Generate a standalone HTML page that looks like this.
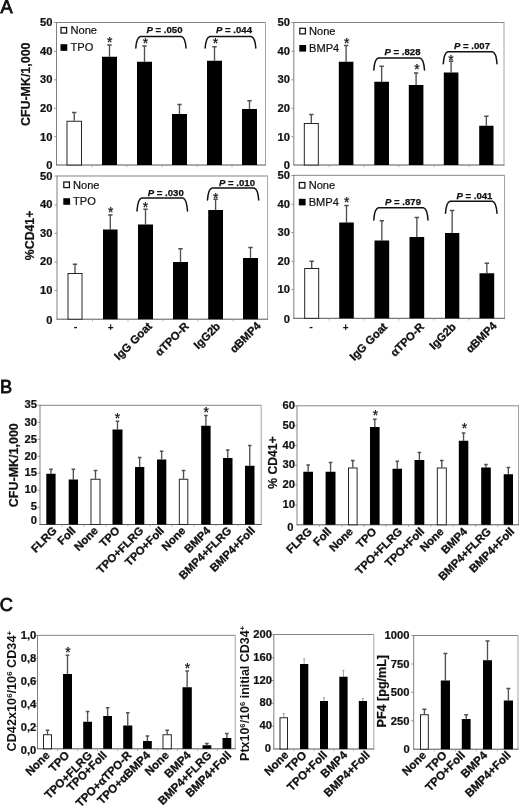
<!DOCTYPE html>
<html><head><meta charset="utf-8"><title>Figure</title>
<style>
html,body{margin:0;padding:0;background:#fff;}
body{width:520px;height:806px;overflow:hidden;font-family:"Liberation Sans",sans-serif;}
svg{display:block;filter:blur(0.38px);}
svg text{font-family:"Liberation Sans",sans-serif;fill:#111;}
</style></head><body>
<svg width="520" height="806" viewBox="0 0 520 806">
<rect x="0" y="0" width="520" height="806" fill="#fff"/>
<text x="0.4" y="12.8" font-size="18.2" stroke="#111" stroke-width="0.8">A</text>
<text x="0.0" y="393" font-size="18.2" stroke="#111" stroke-width="0.8">B</text>
<text x="-0.2" y="611.2" font-size="18.2" stroke="#111" stroke-width="0.8">C</text>
<path d="M56.5,22.5 H265.5" fill="none" stroke="#858585" stroke-width="1"/>
<path d="M265.5,22.0 V165" fill="none" stroke="#a4a4a4" stroke-width="1"/>
<path d="M56.5,22.0 V165" fill="none" stroke="#808080" stroke-width="1"/>
<path d="M56.0,165 H266.0" fill="none" stroke="#555" stroke-width="1"/>
<path d="M54.0,22.5 H56.5" stroke="#808080" stroke-width="0.8"/>
<path d="M54.0,51.3 H56.5" stroke="#808080" stroke-width="0.8"/>
<path d="M54.0,79.8 H56.5" stroke="#808080" stroke-width="0.8"/>
<path d="M54.0,108.3 H56.5" stroke="#808080" stroke-width="0.8"/>
<path d="M54.0,136.7 H56.5" stroke="#808080" stroke-width="0.8"/>
<path d="M92,165 V167.2" stroke="#a0a0a0" stroke-width="0.8"/>
<path d="M127,165 V167.2" stroke="#a0a0a0" stroke-width="0.8"/>
<path d="M162,165 V167.2" stroke="#a0a0a0" stroke-width="0.8"/>
<path d="M197,165 V167.2" stroke="#a0a0a0" stroke-width="0.8"/>
<path d="M232,165 V167.2" stroke="#a0a0a0" stroke-width="0.8"/>
<text x="52.5" y="26.21" font-size="11.2" font-weight="bold" text-anchor="end" stroke="#111" stroke-width="0.22">50</text>
<text x="52.5" y="55.01" font-size="11.2" font-weight="bold" text-anchor="end" stroke="#111" stroke-width="0.22">40</text>
<text x="52.5" y="83.41" font-size="11.2" font-weight="bold" text-anchor="end" stroke="#111" stroke-width="0.22">30</text>
<text x="52.5" y="111.71" font-size="11.2" font-weight="bold" text-anchor="end" stroke="#111" stroke-width="0.22">20</text>
<text x="52.5" y="140.61" font-size="11.2" font-weight="bold" text-anchor="end" stroke="#111" stroke-width="0.22">10</text>
<text x="52.5" y="169.31" font-size="11.2" font-weight="bold" text-anchor="end" stroke="#111" stroke-width="0.22">0</text>
<text transform="translate(30.3,84.3) rotate(-90)" font-size="12.3" font-weight="bold" text-anchor="middle" stroke="#111" stroke-width="0.2" textLength="83.5" lengthAdjust="spacingAndGlyphs">CFU-MK/1,000</text>
<rect x="61.0" y="27.5" width="5.6" height="5.6" fill="#fff" stroke="#111" stroke-width="1.25"/>
<text x="70.5" y="34.20" font-size="11.1" stroke="#111" stroke-width="0.2">None</text>
<rect x="60.5" y="44.2" width="6.8" height="6.6" fill="#000"/>
<text x="70.5" y="51.40" font-size="11.1" stroke="#111" stroke-width="0.2">TPO</text>
<path d="M74.25,120.75 V112.5 M72.05,112.5 H76.45" fill="none" stroke="#505050" stroke-width="1.35"/>
<rect x="67.00" y="121.25" width="14.50" height="43.75" fill="#fff" stroke="#1a1a1a" stroke-width="0.95"/>
<path d="M109.50,56.75 V45 M107.30,45 H111.70" fill="none" stroke="#505050" stroke-width="1.35"/>
<rect x="102.00" y="56.75" width="15.00" height="108.25" fill="#000"/>
<path d="M144.50,61.75 V46 M142.30,46 H146.70" fill="none" stroke="#505050" stroke-width="1.35"/>
<rect x="137.00" y="61.75" width="15.00" height="103.25" fill="#000"/>
<path d="M179.50,114 V104.5 M177.30,104.5 H181.70" fill="none" stroke="#505050" stroke-width="1.35"/>
<rect x="172.00" y="114.00" width="15.00" height="51.00" fill="#000"/>
<path d="M214.50,60.75 V46.75 M212.30,46.75 H216.70" fill="none" stroke="#505050" stroke-width="1.35"/>
<rect x="207.00" y="60.75" width="15.00" height="104.25" fill="#000"/>
<path d="M249.50,109 V100.75 M247.30,100.75 H251.70" fill="none" stroke="#505050" stroke-width="1.35"/>
<rect x="242.00" y="109.00" width="15.00" height="56.00" fill="#000"/>
<text x="109.7" y="47.17" font-size="13.8" text-anchor="middle" fill="#111" stroke="#111" stroke-width="0.25">*</text>
<text x="145.5" y="48.17" font-size="13.8" text-anchor="middle" fill="#111" stroke="#111" stroke-width="0.25">*</text>
<text x="215.5" y="48.17" font-size="13.8" text-anchor="middle" fill="#111" stroke="#111" stroke-width="0.25">*</text>
<path d="M135.8,48 C136.10000000000002,43.5 136.8,37.3 140.4,36.5 H181.4 C185.0,37.3 185.7,43.5 186,48" fill="none" stroke="#111" stroke-width="1.5" stroke-linecap="round"/>
<text x="164.5" y="33" font-size="9.6" font-weight="bold" text-anchor="middle" stroke="#111" stroke-width="0.25"><tspan font-style="italic">P</tspan> = .050</text>
<path d="M205.2,48 C205.5,43.5 206.2,37.3 209.79999999999998,36.5 H251.20000000000002 C254.8,37.3 255.5,43.5 255.8,48" fill="none" stroke="#111" stroke-width="1.5" stroke-linecap="round"/>
<text x="234" y="33" font-size="9.6" font-weight="bold" text-anchor="middle" stroke="#111" stroke-width="0.25"><tspan font-style="italic">P</tspan> = .044</text>
<path d="M293.8,22.5 H504" fill="none" stroke="#858585" stroke-width="1"/>
<path d="M504,22.0 V165" fill="none" stroke="#a4a4a4" stroke-width="1"/>
<path d="M293.8,22.0 V165" fill="none" stroke="#808080" stroke-width="1"/>
<path d="M293.3,165 H504.5" fill="none" stroke="#555" stroke-width="1"/>
<path d="M291.3,22.5 H293.8" stroke="#808080" stroke-width="0.8"/>
<path d="M291.3,51.3 H293.8" stroke="#808080" stroke-width="0.8"/>
<path d="M291.3,79.8 H293.8" stroke="#808080" stroke-width="0.8"/>
<path d="M291.3,108.3 H293.8" stroke="#808080" stroke-width="0.8"/>
<path d="M291.3,136.7 H293.8" stroke="#808080" stroke-width="0.8"/>
<path d="M329,165 V167.2" stroke="#a0a0a0" stroke-width="0.8"/>
<path d="M364,165 V167.2" stroke="#a0a0a0" stroke-width="0.8"/>
<path d="M399,165 V167.2" stroke="#a0a0a0" stroke-width="0.8"/>
<path d="M434,165 V167.2" stroke="#a0a0a0" stroke-width="0.8"/>
<path d="M469,165 V167.2" stroke="#a0a0a0" stroke-width="0.8"/>
<text x="290" y="25.91" font-size="11.2" font-weight="bold" text-anchor="end" stroke="#111" stroke-width="0.22">50</text>
<text x="290" y="54.71" font-size="11.2" font-weight="bold" text-anchor="end" stroke="#111" stroke-width="0.22">40</text>
<text x="290" y="83.41" font-size="11.2" font-weight="bold" text-anchor="end" stroke="#111" stroke-width="0.22">30</text>
<text x="290" y="112.01" font-size="11.2" font-weight="bold" text-anchor="end" stroke="#111" stroke-width="0.22">20</text>
<text x="290" y="140.91" font-size="11.2" font-weight="bold" text-anchor="end" stroke="#111" stroke-width="0.22">10</text>
<text x="290" y="169.21" font-size="11.2" font-weight="bold" text-anchor="end" stroke="#111" stroke-width="0.22">0</text>
<rect x="299.8" y="28.3" width="5.6" height="5.6" fill="#fff" stroke="#111" stroke-width="1.25"/>
<text x="309" y="35.00" font-size="11.1" stroke="#111" stroke-width="0.2">None</text>
<rect x="299.3" y="45" width="6.8" height="6.6" fill="#000"/>
<text x="309" y="52.20" font-size="11.1" stroke="#111" stroke-width="0.2">BMP4</text>
<path d="M311.30,123 V114.5 M309.10,114.5 H313.50" fill="none" stroke="#505050" stroke-width="1.35"/>
<rect x="304.30" y="123.50" width="14.00" height="41.50" fill="#fff" stroke="#1a1a1a" stroke-width="0.95"/>
<path d="M346.10,61.75 V45.5 M343.90,45.5 H348.30" fill="none" stroke="#505050" stroke-width="1.35"/>
<rect x="338.80" y="61.75" width="14.60" height="103.25" fill="#000"/>
<path d="M381.65,81.75 V66.25 M379.45,66.25 H383.85" fill="none" stroke="#505050" stroke-width="1.35"/>
<rect x="374.30" y="81.75" width="14.70" height="83.25" fill="#000"/>
<path d="M416.10,85 V73 M413.90,73 H418.30" fill="none" stroke="#505050" stroke-width="1.35"/>
<rect x="408.80" y="85.00" width="14.60" height="80.00" fill="#000"/>
<path d="M451.10,72.5 V61.25 M448.90,61.25 H453.30" fill="none" stroke="#505050" stroke-width="1.35"/>
<rect x="443.80" y="72.50" width="14.60" height="92.50" fill="#000"/>
<path d="M486.35,125.75 V116.25 M484.15,116.25 H488.55" fill="none" stroke="#505050" stroke-width="1.35"/>
<rect x="479.20" y="125.75" width="14.30" height="39.25" fill="#000"/>
<text x="346.8" y="47.67" font-size="13.8" text-anchor="middle" fill="#111" stroke="#111" stroke-width="0.25">*</text>
<text x="417" y="73.67" font-size="13.8" text-anchor="middle" fill="#111" stroke="#111" stroke-width="0.25">*</text>
<text x="451" y="64.67" font-size="13.8" text-anchor="middle" fill="#111" stroke="#111" stroke-width="0.25">*</text>
<path d="M373.8,70 C374.1,65.5 374.8,58.8 378.40000000000003,58 H419.9 C423.5,58.8 424.2,65.5 424.5,70" fill="none" stroke="#111" stroke-width="1.5" stroke-linecap="round"/>
<text x="402.5" y="55.2" font-size="9.6" font-weight="bold" text-anchor="middle" stroke="#111" stroke-width="0.25"><tspan font-style="italic">P</tspan> = .828</text>
<path d="M443.3,63.8 C443.6,59.3 444.3,52.599999999999994 447.90000000000003,51.8 H492.4 C496.0,52.599999999999994 496.7,59.3 497,63.8" fill="none" stroke="#111" stroke-width="1.5" stroke-linecap="round"/>
<text x="472" y="49" font-size="9.6" font-weight="bold" text-anchor="middle" stroke="#111" stroke-width="0.25"><tspan font-style="italic">P</tspan> = .007</text>
<path d="M57,176 H267.6" fill="none" stroke="#858585" stroke-width="1"/>
<path d="M267.6,175.5 V319.2" fill="none" stroke="#a4a4a4" stroke-width="1"/>
<path d="M57,175.5 V319.2" fill="none" stroke="#808080" stroke-width="1"/>
<path d="M56.5,319.2 H268.1" fill="none" stroke="#555" stroke-width="1"/>
<path d="M54.5,176 H57" stroke="#808080" stroke-width="0.8"/>
<path d="M54.5,205 H57" stroke="#808080" stroke-width="0.8"/>
<path d="M54.5,233.3 H57" stroke="#808080" stroke-width="0.8"/>
<path d="M54.5,262 H57" stroke="#808080" stroke-width="0.8"/>
<path d="M54.5,290.5 H57" stroke="#808080" stroke-width="0.8"/>
<path d="M92.5,319.2 V321.4" stroke="#a0a0a0" stroke-width="0.8"/>
<path d="M128,319.2 V321.4" stroke="#a0a0a0" stroke-width="0.8"/>
<path d="M163,319.2 V321.4" stroke="#a0a0a0" stroke-width="0.8"/>
<path d="M198,319.2 V321.4" stroke="#a0a0a0" stroke-width="0.8"/>
<path d="M233,319.2 V321.4" stroke="#a0a0a0" stroke-width="0.8"/>
<text x="52.5" y="179.71" font-size="11.2" font-weight="bold" text-anchor="end" stroke="#111" stroke-width="0.22">50</text>
<text x="52.5" y="208.41" font-size="11.2" font-weight="bold" text-anchor="end" stroke="#111" stroke-width="0.22">40</text>
<text x="52.5" y="236.71" font-size="11.2" font-weight="bold" text-anchor="end" stroke="#111" stroke-width="0.22">30</text>
<text x="52.5" y="265.41" font-size="11.2" font-weight="bold" text-anchor="end" stroke="#111" stroke-width="0.22">20</text>
<text x="52.5" y="294.41" font-size="11.2" font-weight="bold" text-anchor="end" stroke="#111" stroke-width="0.22">10</text>
<text x="52.5" y="323.61" font-size="11.2" font-weight="bold" text-anchor="end" stroke="#111" stroke-width="0.22">0</text>
<text transform="translate(34.3,235.4) rotate(-90)" font-size="12.3" font-weight="bold" text-anchor="middle" stroke="#111" stroke-width="0.2" textLength="49.5" lengthAdjust="spacingAndGlyphs">%CD41+</text>
<rect x="63.8" y="182.0" width="5.6" height="5.6" fill="#fff" stroke="#111" stroke-width="1.25"/>
<text x="73" y="188.70" font-size="11.1" stroke="#111" stroke-width="0.2">None</text>
<rect x="63.3" y="198.2" width="6.8" height="6.6" fill="#000"/>
<text x="73" y="205.40" font-size="11.1" stroke="#111" stroke-width="0.2">TPO</text>
<path d="M75.00,273 V264.25 M72.80,264.25 H77.20" fill="none" stroke="#505050" stroke-width="1.35"/>
<rect x="68.00" y="273.50" width="14.00" height="45.70" fill="#fff" stroke="#1a1a1a" stroke-width="0.95"/>
<path d="M110.30,229.5 V215 M108.10,215 H112.50" fill="none" stroke="#505050" stroke-width="1.35"/>
<rect x="103.00" y="229.50" width="14.60" height="89.70" fill="#000"/>
<path d="M145.50,224.5 V209.25 M143.30,209.25 H147.70" fill="none" stroke="#505050" stroke-width="1.35"/>
<rect x="138.00" y="224.50" width="15.00" height="94.70" fill="#000"/>
<path d="M180.50,262 V248.75 M178.30,248.75 H182.70" fill="none" stroke="#505050" stroke-width="1.35"/>
<rect x="173.00" y="262.00" width="15.00" height="57.20" fill="#000"/>
<path d="M215.60,210 V199.25 M213.40,199.25 H217.80" fill="none" stroke="#505050" stroke-width="1.35"/>
<rect x="208.20" y="210.00" width="14.80" height="109.20" fill="#000"/>
<path d="M250.50,258 V247.5 M248.30,247.5 H252.70" fill="none" stroke="#505050" stroke-width="1.35"/>
<rect x="243.00" y="258.00" width="15.00" height="61.20" fill="#000"/>
<text x="110.8" y="216.97" font-size="13.8" text-anchor="middle" fill="#111" stroke="#111" stroke-width="0.25">*</text>
<text x="145.5" y="212.17" font-size="13.8" text-anchor="middle" fill="#111" stroke="#111" stroke-width="0.25">*</text>
<text x="215.8" y="202.67" font-size="13.8" text-anchor="middle" fill="#111" stroke="#111" stroke-width="0.25">*</text>
<path d="M137,211 C137.3,206.5 138.0,198.8 141.6,198 H182.9 C186.5,198.8 187.2,206.5 187.5,211" fill="none" stroke="#111" stroke-width="1.5" stroke-linecap="round"/>
<text x="165.8" y="196" font-size="9.6" font-weight="bold" text-anchor="middle" stroke="#111" stroke-width="0.25"><tspan font-style="italic">P</tspan> = .030</text>
<path d="M207.5,200 C207.8,195.5 208.5,188.8 212.1,188 H254.1 C257.7,188.8 258.4,195.5 258.7,200" fill="none" stroke="#111" stroke-width="1.5" stroke-linecap="round"/>
<text x="237" y="185.7" font-size="9.6" font-weight="bold" text-anchor="middle" stroke="#111" stroke-width="0.25"><tspan font-style="italic">P</tspan> = .010</text>
<text x="75.7" y="330" font-size="11" font-weight="bold" text-anchor="middle">-</text>
<text x="110.7" y="330.5" font-size="10" font-weight="bold" text-anchor="middle">+</text>
<text transform="translate(152.6,327) rotate(-45)" font-size="11.3" font-weight="bold" text-anchor="end" stroke="#111" stroke-width="0.3">IgG Goat</text>
<text transform="translate(189.5,327) rotate(-45)" font-size="11.3" font-weight="bold" text-anchor="end" stroke="#111" stroke-width="0.3">&#945;TPO-R</text>
<text transform="translate(221,327) rotate(-45)" font-size="11.3" font-weight="bold" text-anchor="end" stroke="#111" stroke-width="0.3">IgG2b</text>
<text transform="translate(261.5,326.5) rotate(-45)" font-size="11.3" font-weight="bold" text-anchor="end" stroke="#111" stroke-width="0.3">&#945;BMP4</text>
<path d="M293.8,175.3 H504.5" fill="none" stroke="#858585" stroke-width="1"/>
<path d="M504.5,174.8 V318.3" fill="none" stroke="#a4a4a4" stroke-width="1"/>
<path d="M293.8,174.8 V318.3" fill="none" stroke="#808080" stroke-width="1"/>
<path d="M293.3,318.3 H505.0" fill="none" stroke="#555" stroke-width="1"/>
<path d="M291.3,175.5 H293.8" stroke="#808080" stroke-width="0.8"/>
<path d="M291.3,204.3 H293.8" stroke="#808080" stroke-width="0.8"/>
<path d="M291.3,232.5 H293.8" stroke="#808080" stroke-width="0.8"/>
<path d="M291.3,261.3 H293.8" stroke="#808080" stroke-width="0.8"/>
<path d="M291.3,289.5 H293.8" stroke="#808080" stroke-width="0.8"/>
<path d="M329,318.3 V320.5" stroke="#a0a0a0" stroke-width="0.8"/>
<path d="M364,318.3 V320.5" stroke="#a0a0a0" stroke-width="0.8"/>
<path d="M399,318.3 V320.5" stroke="#a0a0a0" stroke-width="0.8"/>
<path d="M434,318.3 V320.5" stroke="#a0a0a0" stroke-width="0.8"/>
<path d="M469,318.3 V320.5" stroke="#a0a0a0" stroke-width="0.8"/>
<text x="290" y="178.91" font-size="11.2" font-weight="bold" text-anchor="end" stroke="#111" stroke-width="0.22">50</text>
<text x="290" y="207.71" font-size="11.2" font-weight="bold" text-anchor="end" stroke="#111" stroke-width="0.22">40</text>
<text x="290" y="235.91" font-size="11.2" font-weight="bold" text-anchor="end" stroke="#111" stroke-width="0.22">30</text>
<text x="290" y="264.71" font-size="11.2" font-weight="bold" text-anchor="end" stroke="#111" stroke-width="0.22">20</text>
<text x="290" y="293.41" font-size="11.2" font-weight="bold" text-anchor="end" stroke="#111" stroke-width="0.22">10</text>
<text x="290" y="322.71" font-size="11.2" font-weight="bold" text-anchor="end" stroke="#111" stroke-width="0.22">0</text>
<rect x="299.3" y="182.5" width="5.6" height="5.6" fill="#fff" stroke="#111" stroke-width="1.25"/>
<text x="308.7" y="189.20" font-size="11.1" stroke="#111" stroke-width="0.2">None</text>
<rect x="298.8" y="198.8" width="6.8" height="6.6" fill="#000"/>
<text x="308.7" y="206.00" font-size="11.1" stroke="#111" stroke-width="0.2">BMP4</text>
<path d="M311.70,268 V261.25 M309.50,261.25 H313.90" fill="none" stroke="#505050" stroke-width="1.35"/>
<rect x="304.70" y="268.50" width="14.00" height="49.80" fill="#fff" stroke="#1a1a1a" stroke-width="0.95"/>
<path d="M346.50,222.5 V205.5 M344.30,205.5 H348.70" fill="none" stroke="#505050" stroke-width="1.35"/>
<rect x="339.20" y="222.50" width="14.60" height="95.80" fill="#000"/>
<path d="M381.85,240.5 V220.75 M379.65,220.75 H384.05" fill="none" stroke="#505050" stroke-width="1.35"/>
<rect x="374.50" y="240.50" width="14.70" height="77.80" fill="#000"/>
<path d="M416.85,237 V217.5 M414.65,217.5 H419.05" fill="none" stroke="#505050" stroke-width="1.35"/>
<rect x="409.50" y="237.00" width="14.70" height="81.30" fill="#000"/>
<path d="M452.15,233 V210.5 M449.95,210.5 H454.35" fill="none" stroke="#505050" stroke-width="1.35"/>
<rect x="445.00" y="233.00" width="14.30" height="85.30" fill="#000"/>
<path d="M486.85,273.25 V263.25 M484.65,263.25 H489.05" fill="none" stroke="#505050" stroke-width="1.35"/>
<rect x="479.50" y="273.25" width="14.70" height="45.05" fill="#000"/>
<text x="346.8" y="206.97" font-size="13.8" text-anchor="middle" fill="#111" stroke="#111" stroke-width="0.25">*</text>
<path d="M373.8,220 C374.1,215.5 374.8,208.60000000000002 378.40000000000003,207.8 H423.4 C427.0,208.60000000000002 427.7,215.5 428,220" fill="none" stroke="#111" stroke-width="1.5" stroke-linecap="round"/>
<text x="403" y="205.3" font-size="9.6" font-weight="bold" text-anchor="middle" stroke="#111" stroke-width="0.25"><tspan font-style="italic">P</tspan> = .879</text>
<path d="M445.5,213.3 C445.8,208.8 446.5,202.10000000000002 450.1,201.3 H492.4 C496.0,202.10000000000002 496.7,208.8 497,213.3" fill="none" stroke="#111" stroke-width="1.5" stroke-linecap="round"/>
<text x="474.4" y="198.5" font-size="9.6" font-weight="bold" text-anchor="middle" stroke="#111" stroke-width="0.25"><tspan font-style="italic">P</tspan> = .041</text>
<text x="311.2" y="330" font-size="11" font-weight="bold" text-anchor="middle">-</text>
<text x="345.7" y="330.5" font-size="10" font-weight="bold" text-anchor="middle">+</text>
<text transform="translate(388,327.5) rotate(-45)" font-size="11.3" font-weight="bold" text-anchor="end" stroke="#111" stroke-width="0.3">IgG Goat</text>
<text transform="translate(424.7,327.5) rotate(-45)" font-size="11.3" font-weight="bold" text-anchor="end" stroke="#111" stroke-width="0.3">&#945;TPO-R</text>
<text transform="translate(456.6,327.5) rotate(-45)" font-size="11.3" font-weight="bold" text-anchor="end" stroke="#111" stroke-width="0.3">IgG2b</text>
<text transform="translate(497.5,326.5) rotate(-45)" font-size="11.3" font-weight="bold" text-anchor="end" stroke="#111" stroke-width="0.3">&#945;BMP4</text>
<path d="M40,405.3 H261.2" fill="none" stroke="#858585" stroke-width="1"/>
<path d="M261.2,404.8 V524.5" fill="none" stroke="#a4a4a4" stroke-width="1"/>
<path d="M40,404.8 V524.5" fill="none" stroke="#808080" stroke-width="1"/>
<path d="M39.5,524.5 H261.7" fill="none" stroke="#555" stroke-width="1"/>
<path d="M37.5,405.3 H40" stroke="#808080" stroke-width="0.8"/>
<path d="M37.5,422.3 H40" stroke="#808080" stroke-width="0.8"/>
<path d="M37.5,439.3 H40" stroke="#808080" stroke-width="0.8"/>
<path d="M37.5,456.3 H40" stroke="#808080" stroke-width="0.8"/>
<path d="M37.5,473.3 H40" stroke="#808080" stroke-width="0.8"/>
<path d="M37.5,490.3 H40" stroke="#808080" stroke-width="0.8"/>
<path d="M37.5,507.3 H40" stroke="#808080" stroke-width="0.8"/>
<path d="M62,524.5 V526.7" stroke="#a0a0a0" stroke-width="0.8"/>
<path d="M84,524.5 V526.7" stroke="#a0a0a0" stroke-width="0.8"/>
<path d="M106,524.5 V526.7" stroke="#a0a0a0" stroke-width="0.8"/>
<path d="M128,524.5 V526.7" stroke="#a0a0a0" stroke-width="0.8"/>
<path d="M150,524.5 V526.7" stroke="#a0a0a0" stroke-width="0.8"/>
<path d="M172,524.5 V526.7" stroke="#a0a0a0" stroke-width="0.8"/>
<path d="M194,524.5 V526.7" stroke="#a0a0a0" stroke-width="0.8"/>
<path d="M216,524.5 V526.7" stroke="#a0a0a0" stroke-width="0.8"/>
<path d="M238,524.5 V526.7" stroke="#a0a0a0" stroke-width="0.8"/>
<text x="37" y="408.41" font-size="11.2" font-weight="bold" text-anchor="end" stroke="#111" stroke-width="0.22">35</text>
<text x="37" y="425.91" font-size="11.2" font-weight="bold" text-anchor="end" stroke="#111" stroke-width="0.22">30</text>
<text x="37" y="442.71" font-size="11.2" font-weight="bold" text-anchor="end" stroke="#111" stroke-width="0.22">25</text>
<text x="37" y="459.71" font-size="11.2" font-weight="bold" text-anchor="end" stroke="#111" stroke-width="0.22">20</text>
<text x="37" y="476.41" font-size="11.2" font-weight="bold" text-anchor="end" stroke="#111" stroke-width="0.22">15</text>
<text x="37" y="493.41" font-size="11.2" font-weight="bold" text-anchor="end" stroke="#111" stroke-width="0.22">10</text>
<text x="37" y="510.41" font-size="11.2" font-weight="bold" text-anchor="end" stroke="#111" stroke-width="0.22">5</text>
<text x="37" y="523.91" font-size="11.2" font-weight="bold" text-anchor="end" stroke="#111" stroke-width="0.22">0</text>
<text transform="translate(17.9,465.2) rotate(-90)" font-size="12.3" font-weight="bold" text-anchor="middle" stroke="#111" stroke-width="0.2" textLength="84" lengthAdjust="spacingAndGlyphs">CFU-MK/1,000</text>
<path d="M50.95,473.75 V469.25 M49.15,469.25 H52.75" fill="none" stroke="#505050" stroke-width="1.35"/>
<rect x="46.30" y="473.75" width="9.30" height="50.75" fill="#000"/>
<path d="M73.35,479.5 V469.25 M71.55,469.25 H75.15" fill="none" stroke="#505050" stroke-width="1.35"/>
<rect x="68.70" y="479.50" width="9.30" height="45.00" fill="#000"/>
<path d="M95.50,478.75 V470.5 M93.70,470.5 H97.30" fill="none" stroke="#505050" stroke-width="1.35"/>
<rect x="91.00" y="479.25" width="9.00" height="45.25" fill="#fff" stroke="#1a1a1a" stroke-width="0.95"/>
<path d="M117.50,429.5 V421.25 M115.70,421.25 H119.30" fill="none" stroke="#505050" stroke-width="1.35"/>
<rect x="112.50" y="429.50" width="10.00" height="95.00" fill="#000"/>
<path d="M139.65,467 V457.5 M137.85,457.5 H141.45" fill="none" stroke="#505050" stroke-width="1.35"/>
<rect x="135.00" y="467.00" width="9.30" height="57.50" fill="#000"/>
<path d="M161.65,459.5 V451.25 M159.85,451.25 H163.45" fill="none" stroke="#505050" stroke-width="1.35"/>
<rect x="157.00" y="459.50" width="9.30" height="65.00" fill="#000"/>
<path d="M183.55,478.75 V470.5 M181.75,470.5 H185.35" fill="none" stroke="#505050" stroke-width="1.35"/>
<rect x="179.30" y="479.25" width="8.50" height="45.25" fill="#fff" stroke="#1a1a1a" stroke-width="0.95"/>
<path d="M205.90,425.75 V415.5 M204.10,415.5 H207.70" fill="none" stroke="#505050" stroke-width="1.35"/>
<rect x="201.20" y="425.75" width="9.40" height="98.75" fill="#000"/>
<path d="M227.75,458 V450 M225.95,450 H229.55" fill="none" stroke="#505050" stroke-width="1.35"/>
<rect x="223.00" y="458.00" width="9.50" height="66.50" fill="#000"/>
<path d="M249.75,465.75 V445.5 M247.95,445.5 H251.55" fill="none" stroke="#505050" stroke-width="1.35"/>
<rect x="245.00" y="465.75" width="9.50" height="58.75" fill="#000"/>
<text x="117.5" y="422.97" font-size="13.8" text-anchor="middle" fill="#111" stroke="#111" stroke-width="0.25">*</text>
<text x="206.2" y="416.87" font-size="13.8" text-anchor="middle" fill="#111" stroke="#111" stroke-width="0.25">*</text>
<text transform="translate(57.4,531.4) rotate(-45)" font-size="11.3" font-weight="bold" text-anchor="end" stroke="#111" stroke-width="0.3">FLRG</text>
<text transform="translate(76.3,531.4) rotate(-45)" font-size="11.3" font-weight="bold" text-anchor="end" stroke="#111" stroke-width="0.3">Foll</text>
<text transform="translate(98.8,531.4) rotate(-45)" font-size="11.3" font-weight="bold" text-anchor="end" stroke="#111" stroke-width="0.3">None</text>
<text transform="translate(120.5,531.4) rotate(-45)" font-size="11.3" font-weight="bold" text-anchor="end" stroke="#111" stroke-width="0.3">TPO</text>
<text transform="translate(144.2,531.4) rotate(-45)" font-size="11.3" font-weight="bold" text-anchor="end" stroke="#111" stroke-width="0.3">TPO+FLRG</text>
<text transform="translate(164.8,531.4) rotate(-45)" font-size="11.3" font-weight="bold" text-anchor="end" stroke="#111" stroke-width="0.3">TPO+Foll</text>
<text transform="translate(186.3,531.4) rotate(-45)" font-size="11.3" font-weight="bold" text-anchor="end" stroke="#111" stroke-width="0.3">None</text>
<text transform="translate(211.2,531.4) rotate(-45)" font-size="11.3" font-weight="bold" text-anchor="end" stroke="#111" stroke-width="0.3">BMP4</text>
<text transform="translate(232.2,531.4) rotate(-45)" font-size="11.3" font-weight="bold" text-anchor="end" stroke="#111" stroke-width="0.3">BMP4+FLRG</text>
<text transform="translate(255.6,531.4) rotate(-45)" font-size="11.3" font-weight="bold" text-anchor="end" stroke="#111" stroke-width="0.3">BMP4+Foll</text>
<path d="M297,405.8 H518.5" fill="none" stroke="#858585" stroke-width="1"/>
<path d="M518.5,405.3 V524.8" fill="none" stroke="#a4a4a4" stroke-width="1"/>
<path d="M297,405.3 V524.8" fill="none" stroke="#808080" stroke-width="1"/>
<path d="M296.5,524.8 H519.0" fill="none" stroke="#555" stroke-width="1"/>
<path d="M294.5,406 H297" stroke="#808080" stroke-width="0.8"/>
<path d="M294.5,425.8 H297" stroke="#808080" stroke-width="0.8"/>
<path d="M294.5,445.5 H297" stroke="#808080" stroke-width="0.8"/>
<path d="M294.5,465.3 H297" stroke="#808080" stroke-width="0.8"/>
<path d="M294.5,485 H297" stroke="#808080" stroke-width="0.8"/>
<path d="M294.5,505 H297" stroke="#808080" stroke-width="0.8"/>
<path d="M319.4,524.8 V527.0" stroke="#a0a0a0" stroke-width="0.8"/>
<path d="M341.7,524.8 V527.0" stroke="#a0a0a0" stroke-width="0.8"/>
<path d="M364,524.8 V527.0" stroke="#a0a0a0" stroke-width="0.8"/>
<path d="M386.3,524.8 V527.0" stroke="#a0a0a0" stroke-width="0.8"/>
<path d="M408.6,524.8 V527.0" stroke="#a0a0a0" stroke-width="0.8"/>
<path d="M430.9,524.8 V527.0" stroke="#a0a0a0" stroke-width="0.8"/>
<path d="M453.2,524.8 V527.0" stroke="#a0a0a0" stroke-width="0.8"/>
<path d="M475.5,524.8 V527.0" stroke="#a0a0a0" stroke-width="0.8"/>
<path d="M497.8,524.8 V527.0" stroke="#a0a0a0" stroke-width="0.8"/>
<text x="295" y="409.41" font-size="11.2" font-weight="bold" text-anchor="end" stroke="#111" stroke-width="0.22">60</text>
<text x="295" y="429.21" font-size="11.2" font-weight="bold" text-anchor="end" stroke="#111" stroke-width="0.22">50</text>
<text x="295" y="448.91" font-size="11.2" font-weight="bold" text-anchor="end" stroke="#111" stroke-width="0.22">40</text>
<text x="295" y="468.41" font-size="11.2" font-weight="bold" text-anchor="end" stroke="#111" stroke-width="0.22">30</text>
<text x="295" y="488.41" font-size="11.2" font-weight="bold" text-anchor="end" stroke="#111" stroke-width="0.22">20</text>
<text x="295" y="508.41" font-size="11.2" font-weight="bold" text-anchor="end" stroke="#111" stroke-width="0.22">10</text>
<text x="293.6" y="531.01" font-size="11.2" font-weight="bold" text-anchor="end" stroke="#111" stroke-width="0.22">0</text>
<text transform="translate(276.8,462.5) rotate(-90)" font-size="12.3" font-weight="bold" text-anchor="middle" stroke="#111" stroke-width="0.2" textLength="52.5" lengthAdjust="spacingAndGlyphs">% CD41+</text>
<path d="M308.15,471.75 V465 M306.35,465 H309.95" fill="none" stroke="#505050" stroke-width="1.35"/>
<rect x="303.30" y="471.75" width="9.70" height="53.05" fill="#000"/>
<path d="M330.55,471.75 V462.5 M328.75,462.5 H332.35" fill="none" stroke="#505050" stroke-width="1.35"/>
<rect x="325.60" y="471.75" width="9.90" height="53.05" fill="#000"/>
<path d="M352.80,467.5 V460.5 M351.00,460.5 H354.60" fill="none" stroke="#505050" stroke-width="1.35"/>
<rect x="348.50" y="468.00" width="8.60" height="56.80" fill="#fff" stroke="#1a1a1a" stroke-width="0.95"/>
<path d="M374.80,427 V419.25 M373.00,419.25 H376.60" fill="none" stroke="#505050" stroke-width="1.35"/>
<rect x="370.00" y="427.00" width="9.60" height="97.80" fill="#000"/>
<path d="M397.25,468.75 V461.25 M395.45,461.25 H399.05" fill="none" stroke="#505050" stroke-width="1.35"/>
<rect x="392.50" y="468.75" width="9.50" height="56.05" fill="#000"/>
<path d="M419.40,460 V452.5 M417.60,452.5 H421.20" fill="none" stroke="#505050" stroke-width="1.35"/>
<rect x="414.50" y="460.00" width="9.80" height="64.80" fill="#000"/>
<path d="M441.80,467.5 V460.5 M440.00,460.5 H443.60" fill="none" stroke="#505050" stroke-width="1.35"/>
<rect x="437.30" y="468.00" width="9.00" height="56.80" fill="#fff" stroke="#1a1a1a" stroke-width="0.95"/>
<path d="M463.55,440.75 V433 M461.75,433 H465.35" fill="none" stroke="#505050" stroke-width="1.35"/>
<rect x="458.80" y="440.75" width="9.50" height="84.05" fill="#000"/>
<path d="M486.00,467.5 V464.5 M484.20,464.5 H487.80" fill="none" stroke="#505050" stroke-width="1.35"/>
<rect x="481.20" y="467.50" width="9.60" height="57.30" fill="#000"/>
<path d="M508.35,474.25 V467.5 M506.55,467.5 H510.15" fill="none" stroke="#505050" stroke-width="1.35"/>
<rect x="503.70" y="474.25" width="9.30" height="50.55" fill="#000"/>
<text x="375.5" y="419.97" font-size="13.8" text-anchor="middle" fill="#111" stroke="#111" stroke-width="0.25">*</text>
<text x="464.5" y="433.47" font-size="13.8" text-anchor="middle" fill="#111" stroke="#111" stroke-width="0.25">*</text>
<text transform="translate(312.6,532.3) rotate(-45)" font-size="11.3" font-weight="bold" text-anchor="end" stroke="#111" stroke-width="0.3">FLRG</text>
<text transform="translate(332.0,532.3) rotate(-45)" font-size="11.3" font-weight="bold" text-anchor="end" stroke="#111" stroke-width="0.3">Foll</text>
<text transform="translate(353.8,532.3) rotate(-45)" font-size="11.3" font-weight="bold" text-anchor="end" stroke="#111" stroke-width="0.3">None</text>
<text transform="translate(377.3,532.3) rotate(-45)" font-size="11.3" font-weight="bold" text-anchor="end" stroke="#111" stroke-width="0.3">TPO</text>
<text transform="translate(402.9,532.3) rotate(-45)" font-size="11.3" font-weight="bold" text-anchor="end" stroke="#111" stroke-width="0.3">TPO+FLRG</text>
<text transform="translate(424.9,532.3) rotate(-45)" font-size="11.3" font-weight="bold" text-anchor="end" stroke="#111" stroke-width="0.3">TPO+Foll</text>
<text transform="translate(444.5,532.3) rotate(-45)" font-size="11.3" font-weight="bold" text-anchor="end" stroke="#111" stroke-width="0.3">None</text>
<text transform="translate(468,532.3) rotate(-45)" font-size="11.3" font-weight="bold" text-anchor="end" stroke="#111" stroke-width="0.3">BMP4</text>
<text transform="translate(491.7,532.3) rotate(-45)" font-size="11.3" font-weight="bold" text-anchor="end" stroke="#111" stroke-width="0.3">BMP4+FLRG</text>
<text transform="translate(514.9,532.3) rotate(-45)" font-size="11.3" font-weight="bold" text-anchor="end" stroke="#111" stroke-width="0.3">BMP4+Foll</text>
<path d="M37.5,635.3 H235.2" fill="none" stroke="#858585" stroke-width="1"/>
<path d="M235.2,634.8 V748.8" fill="none" stroke="#a4a4a4" stroke-width="1"/>
<path d="M37.5,634.8 V748.8" fill="none" stroke="#808080" stroke-width="1"/>
<path d="M37.0,748.8 H235.7" fill="none" stroke="#555" stroke-width="1"/>
<path d="M35.0,635.5 H37.5" stroke="#808080" stroke-width="0.8"/>
<path d="M35.0,658.2 H37.5" stroke="#808080" stroke-width="0.8"/>
<path d="M35.0,680.9 H37.5" stroke="#808080" stroke-width="0.8"/>
<path d="M35.0,703.6 H37.5" stroke="#808080" stroke-width="0.8"/>
<path d="M35.0,726.3 H37.5" stroke="#808080" stroke-width="0.8"/>
<path d="M57.5,748.8 V751.0" stroke="#a0a0a0" stroke-width="0.8"/>
<path d="M77.5,748.8 V751.0" stroke="#a0a0a0" stroke-width="0.8"/>
<path d="M97.5,748.8 V751.0" stroke="#a0a0a0" stroke-width="0.8"/>
<path d="M117.5,748.8 V751.0" stroke="#a0a0a0" stroke-width="0.8"/>
<path d="M137.5,748.8 V751.0" stroke="#a0a0a0" stroke-width="0.8"/>
<path d="M157.5,748.8 V751.0" stroke="#a0a0a0" stroke-width="0.8"/>
<path d="M177.5,748.8 V751.0" stroke="#a0a0a0" stroke-width="0.8"/>
<path d="M197.5,748.8 V751.0" stroke="#a0a0a0" stroke-width="0.8"/>
<path d="M217.5,748.8 V751.0" stroke="#a0a0a0" stroke-width="0.8"/>
<text x="36.3" y="639.31" font-size="11.2" font-weight="bold" text-anchor="end" stroke="#111" stroke-width="0.22">1,0</text>
<text x="36.3" y="661.91" font-size="11.2" font-weight="bold" text-anchor="end" stroke="#111" stroke-width="0.22">0,8</text>
<text x="36.3" y="685.21" font-size="11.2" font-weight="bold" text-anchor="end" stroke="#111" stroke-width="0.22">0,6</text>
<text x="36.3" y="708.11" font-size="11.2" font-weight="bold" text-anchor="end" stroke="#111" stroke-width="0.22">0,4</text>
<text x="36.3" y="730.61" font-size="11.2" font-weight="bold" text-anchor="end" stroke="#111" stroke-width="0.22">0,2</text>
<text x="36.3" y="753.81" font-size="11.2" font-weight="bold" text-anchor="end" stroke="#111" stroke-width="0.22">0,0</text>
<text transform="translate(16.4,691.2) rotate(-90)" font-size="12.3" font-weight="bold" text-anchor="middle" textLength="120.5" lengthAdjust="spacingAndGlyphs">CD42x10<tspan font-size="7.6" dy="-4">6</tspan><tspan dy="4">/10</tspan><tspan font-size="7.6" dy="-4">6</tspan><tspan dy="4"> CD34</tspan><tspan font-size="7.6" dy="-4">+</tspan></text>
<path d="M47.50,734.25 V730.25 M45.70,730.25 H49.30" fill="none" stroke="#505050" stroke-width="1.35"/>
<rect x="43.50" y="734.75" width="8.00" height="14.05" fill="#fff" stroke="#1a1a1a" stroke-width="0.95"/>
<path d="M67.50,674 V655.25 M65.70,655.25 H69.30" fill="none" stroke="#505050" stroke-width="1.35"/>
<rect x="63.00" y="674.00" width="9.00" height="74.80" fill="#000"/>
<path d="M87.60,721.75 V711.5 M85.80,711.5 H89.40" fill="none" stroke="#505050" stroke-width="1.35"/>
<rect x="83.20" y="721.75" width="8.80" height="27.05" fill="#000"/>
<path d="M107.60,716 V707.75 M105.80,707.75 H109.40" fill="none" stroke="#505050" stroke-width="1.35"/>
<rect x="103.20" y="716.00" width="8.80" height="32.80" fill="#000"/>
<path d="M127.75,725.5 V712.75 M125.95,712.75 H129.55" fill="none" stroke="#505050" stroke-width="1.35"/>
<rect x="123.20" y="725.50" width="9.10" height="23.30" fill="#000"/>
<path d="M147.40,741 V736 M145.60,736 H149.20" fill="none" stroke="#505050" stroke-width="1.35"/>
<rect x="143.00" y="741.00" width="8.80" height="7.80" fill="#000"/>
<path d="M167.15,734.25 V730.25 M165.35,730.25 H168.95" fill="none" stroke="#505050" stroke-width="1.35"/>
<rect x="163.00" y="734.75" width="8.30" height="14.05" fill="#fff" stroke="#1a1a1a" stroke-width="0.95"/>
<path d="M187.15,687.25 V671 M185.35,671 H188.95" fill="none" stroke="#505050" stroke-width="1.35"/>
<rect x="182.50" y="687.25" width="9.30" height="61.55" fill="#000"/>
<path d="M206.90,745.25 V743.5 M205.10,743.5 H208.70" fill="none" stroke="#505050" stroke-width="1.35"/>
<rect x="202.50" y="745.25" width="8.80" height="3.55" fill="#000"/>
<path d="M226.90,738 V733.5 M225.10,733.5 H228.70" fill="none" stroke="#505050" stroke-width="1.35"/>
<rect x="222.50" y="738.00" width="8.80" height="10.80" fill="#000"/>
<text x="68" y="657.17" font-size="13.8" text-anchor="middle" fill="#111" stroke="#111" stroke-width="0.25">*</text>
<text x="187.5" y="672.67" font-size="13.8" text-anchor="middle" fill="#111" stroke="#111" stroke-width="0.25">*</text>
<text transform="translate(50.5,756) rotate(-45)" font-size="11.5" font-weight="bold" text-anchor="end" stroke="#111" stroke-width="0.3">None</text>
<text transform="translate(70.2,756) rotate(-45)" font-size="11.5" font-weight="bold" text-anchor="end" stroke="#111" stroke-width="0.3">TPO</text>
<text transform="translate(92.8,756) rotate(-45)" font-size="11.5" font-weight="bold" text-anchor="end" stroke="#111" stroke-width="0.3">TPO+FLRG</text>
<text transform="translate(107.5,756) rotate(-45)" font-size="11.5" font-weight="bold" text-anchor="end" stroke="#111" stroke-width="0.3">TPO+Foll</text>
<text transform="translate(132.2,756) rotate(-45)" font-size="11.5" font-weight="bold" text-anchor="end" stroke="#111" stroke-width="0.3">TPO+&#945;TPO-R</text>
<text transform="translate(151,756) rotate(-45)" font-size="11.5" font-weight="bold" text-anchor="end" stroke="#111" stroke-width="0.3">TPO+&#945;BMP4</text>
<text transform="translate(169.8,756) rotate(-45)" font-size="11.5" font-weight="bold" text-anchor="end" stroke="#111" stroke-width="0.3">None</text>
<text transform="translate(191.6,756) rotate(-45)" font-size="11.5" font-weight="bold" text-anchor="end" stroke="#111" stroke-width="0.3">BMP4</text>
<text transform="translate(212.3,756) rotate(-45)" font-size="11.5" font-weight="bold" text-anchor="end" stroke="#111" stroke-width="0.3">BMP4+FLRG</text>
<text transform="translate(232,756) rotate(-45)" font-size="11.5" font-weight="bold" text-anchor="end" stroke="#111" stroke-width="0.3">BMP4+Foll</text>
<path d="M273.8,634.5 H373.8" fill="none" stroke="#858585" stroke-width="1"/>
<path d="M373.8,634.0 V749" fill="none" stroke="#a4a4a4" stroke-width="1"/>
<path d="M273.8,634.0 V749" fill="none" stroke="#808080" stroke-width="1"/>
<path d="M273.3,749 H374.3" fill="none" stroke="#555" stroke-width="1"/>
<path d="M271.3,634.8 H273.8" stroke="#808080" stroke-width="0.8"/>
<path d="M271.3,657.7 H273.8" stroke="#808080" stroke-width="0.8"/>
<path d="M271.3,680.5 H273.8" stroke="#808080" stroke-width="0.8"/>
<path d="M271.3,703.3 H273.8" stroke="#808080" stroke-width="0.8"/>
<path d="M271.3,726.2 H273.8" stroke="#808080" stroke-width="0.8"/>
<path d="M294,749 V751.2" stroke="#a0a0a0" stroke-width="0.8"/>
<path d="M314,749 V751.2" stroke="#a0a0a0" stroke-width="0.8"/>
<path d="M333.8,749 V751.2" stroke="#a0a0a0" stroke-width="0.8"/>
<path d="M353.5,749 V751.2" stroke="#a0a0a0" stroke-width="0.8"/>
<text x="272" y="638.21" font-size="11.2" font-weight="bold" text-anchor="end" stroke="#111" stroke-width="0.22">200</text>
<text x="272" y="661.21" font-size="11.2" font-weight="bold" text-anchor="end" stroke="#111" stroke-width="0.22">160</text>
<text x="272" y="683.91" font-size="11.2" font-weight="bold" text-anchor="end" stroke="#111" stroke-width="0.22">120</text>
<text x="272" y="706.21" font-size="11.2" font-weight="bold" text-anchor="end" stroke="#111" stroke-width="0.22">80</text>
<text x="272" y="729.41" font-size="11.2" font-weight="bold" text-anchor="end" stroke="#111" stroke-width="0.22">40</text>
<text x="271" y="752.01" font-size="11.2" font-weight="bold" text-anchor="end" stroke="#111" stroke-width="0.22">0</text>
<text transform="translate(249.3,693.4) rotate(-90)" font-size="12.3" font-weight="bold" text-anchor="middle" textLength="135" lengthAdjust="spacingAndGlyphs">Ptx10<tspan font-size="7.6" dy="-4">6</tspan><tspan dy="4">/10</tspan><tspan font-size="7.6" dy="-4">6</tspan><tspan dy="4"> initial CD34</tspan><tspan font-size="7.6" dy="-4">+</tspan></text>
<path d="M283.75,717.25 V713.5 M282.75,713.5 H284.75" fill="none" stroke="#888" stroke-width="0.8"/>
<rect x="280.00" y="717.75" width="7.50" height="31.25" fill="#fff" stroke="#1a1a1a" stroke-width="0.95"/>
<path d="M304.15,664 V659 M303.15,659 H305.15" fill="none" stroke="#888" stroke-width="0.8"/>
<rect x="300.00" y="664.00" width="8.30" height="85.00" fill="#000"/>
<path d="M324.00,701 V697.75 M323.00,697.75 H325.00" fill="none" stroke="#888" stroke-width="0.8"/>
<rect x="320.00" y="701.00" width="8.00" height="48.00" fill="#000"/>
<path d="M343.45,676.75 V670.5 M342.45,670.5 H344.45" fill="none" stroke="#888" stroke-width="0.8"/>
<rect x="339.30" y="676.75" width="8.30" height="72.25" fill="#000"/>
<path d="M362.90,701 V698.5 M361.90,698.5 H363.90" fill="none" stroke="#888" stroke-width="0.8"/>
<rect x="358.80" y="701.00" width="8.20" height="48.00" fill="#000"/>
<text transform="translate(289.3,755.8) rotate(-45)" font-size="11.5" font-weight="bold" text-anchor="end" stroke="#111" stroke-width="0.3">None</text>
<text transform="translate(307.3,755.8) rotate(-45)" font-size="11.5" font-weight="bold" text-anchor="end" stroke="#111" stroke-width="0.3">TPO</text>
<text transform="translate(327.7,755.8) rotate(-45)" font-size="11.5" font-weight="bold" text-anchor="end" stroke="#111" stroke-width="0.3">TPO+Foll</text>
<text transform="translate(347.9,755.8) rotate(-45)" font-size="11.5" font-weight="bold" text-anchor="end" stroke="#111" stroke-width="0.3">BMP4</text>
<text transform="translate(370.4,755.8) rotate(-45)" font-size="11.5" font-weight="bold" text-anchor="end" stroke="#111" stroke-width="0.3">BMP4+Foll</text>
<path d="M413.7,635.5 H518" fill="none" stroke="#858585" stroke-width="1"/>
<path d="M518,635.0 V749.2" fill="none" stroke="#a4a4a4" stroke-width="1"/>
<path d="M413.7,635.0 V749.2" fill="none" stroke="#808080" stroke-width="1"/>
<path d="M413.2,749.2 H518.5" fill="none" stroke="#555" stroke-width="1"/>
<path d="M411.2,635.5 H413.7" stroke="#808080" stroke-width="0.8"/>
<path d="M411.2,664 H413.7" stroke="#808080" stroke-width="0.8"/>
<path d="M411.2,692.3 H413.7" stroke="#808080" stroke-width="0.8"/>
<path d="M411.2,720.8 H413.7" stroke="#808080" stroke-width="0.8"/>
<path d="M434.5,749.2 V751.4000000000001" stroke="#a0a0a0" stroke-width="0.8"/>
<path d="M455.5,749.2 V751.4000000000001" stroke="#a0a0a0" stroke-width="0.8"/>
<path d="M476.5,749.2 V751.4000000000001" stroke="#a0a0a0" stroke-width="0.8"/>
<path d="M497.5,749.2 V751.4000000000001" stroke="#a0a0a0" stroke-width="0.8"/>
<text x="409.4" y="639.41" font-size="11.2" font-weight="bold" text-anchor="end" stroke="#111" stroke-width="0.22">1000</text>
<text x="409.4" y="668.01" font-size="11.2" font-weight="bold" text-anchor="end" stroke="#111" stroke-width="0.22">750</text>
<text x="409.4" y="696.31" font-size="11.2" font-weight="bold" text-anchor="end" stroke="#111" stroke-width="0.22">500</text>
<text x="409.4" y="724.91" font-size="11.2" font-weight="bold" text-anchor="end" stroke="#111" stroke-width="0.22">250</text>
<text x="409.8" y="753.01" font-size="11.2" font-weight="bold" text-anchor="end" stroke="#111" stroke-width="0.22">0</text>
<text transform="translate(386.3,691.2) rotate(-90)" font-size="12.6" font-weight="bold" text-anchor="middle" stroke="#111" stroke-width="0.2" textLength="72.5" lengthAdjust="spacingAndGlyphs">PF4 [pg/mL]</text>
<path d="M424.40,714.25 V709.25 M422.40,709.25 H426.40" fill="none" stroke="#505050" stroke-width="1.35"/>
<rect x="420.50" y="714.75" width="7.80" height="34.45" fill="#fff" stroke="#1a1a1a" stroke-width="0.95"/>
<path d="M445.40,680.5 V653.5 M443.40,653.5 H447.40" fill="none" stroke="#505050" stroke-width="1.35"/>
<rect x="440.80" y="680.50" width="9.20" height="68.70" fill="#000"/>
<path d="M466.20,719 V714.75 M464.20,714.75 H468.20" fill="none" stroke="#505050" stroke-width="1.35"/>
<rect x="461.80" y="719.00" width="8.80" height="30.20" fill="#000"/>
<path d="M487.50,660.25 V641 M485.50,641 H489.50" fill="none" stroke="#505050" stroke-width="1.35"/>
<rect x="483.00" y="660.25" width="9.00" height="88.95" fill="#000"/>
<path d="M508.40,700.5 V688.5 M506.40,688.5 H510.40" fill="none" stroke="#505050" stroke-width="1.35"/>
<rect x="503.80" y="700.50" width="9.20" height="48.70" fill="#000"/>
<text transform="translate(427,756) rotate(-45)" font-size="11.5" font-weight="bold" text-anchor="end" stroke="#111" stroke-width="0.3">None</text>
<text transform="translate(447.7,756) rotate(-45)" font-size="11.5" font-weight="bold" text-anchor="end" stroke="#111" stroke-width="0.3">TPO</text>
<text transform="translate(465.8,756) rotate(-45)" font-size="11.5" font-weight="bold" text-anchor="end" stroke="#111" stroke-width="0.3">TPO+Foll</text>
<text transform="translate(488,756) rotate(-45)" font-size="11.5" font-weight="bold" text-anchor="end" stroke="#111" stroke-width="0.3">BMP4</text>
<text transform="translate(511.5,756) rotate(-45)" font-size="11.5" font-weight="bold" text-anchor="end" stroke="#111" stroke-width="0.3">BMP4+Foll</text>
</svg>
</body></html>
